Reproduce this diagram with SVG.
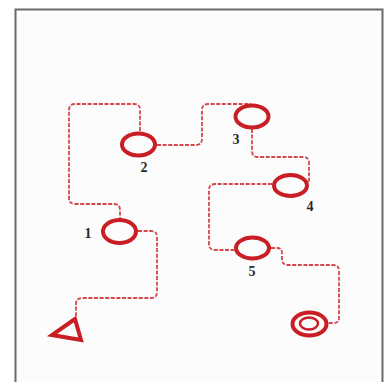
<svg xmlns="http://www.w3.org/2000/svg" width="392" height="382" viewBox="0 0 392 382">
<style>
.node{fill:none;stroke:#c81e24;stroke-width:4}
.inner{fill:none;stroke:#c81e24;stroke-width:2.5}
.link{fill:none;stroke:#d5474b;stroke-width:1.8;stroke-dasharray:4 1.6}
.lbl{font-family:"Liberation Serif","DejaVu Serif",serif;font-weight:bold;font-size:14px;fill:#2a2a2a;text-anchor:middle}
</style>
<rect x="0" y="0" width="392" height="382" fill="#ffffff"/>
<rect x="15.5" y="9.5" width="367" height="380" fill="#fcfcfc" stroke="#6a6a6a" stroke-width="2"/>
<g id="connectors">
<path class="link" d="M140,131 V110 q0,-6 -6,-6 H75 q-6,0 -6,6 V198 q0,6 6,6 H114 q6,0 6,6 V218"/>
<path class="link" d="M157,145 H196 q6,0 6,-6 V110 q0,-6 6,-6 H251"/>
<path class="link" d="M252,129 V151 q0,6 6,6 H303 q6,0 6,6 V182"/>
<path class="link" d="M272,184 H215 q-6,0 -6,6 V244 q0,6 6,6 H234"/>
<path class="link" d="M271,248 H277 q5,0 5,5 V259 q0,6 6,6 H333 q6,0 6,6 V318 q0,5 -5,5 H328"/>
<path class="link" d="M138,231 H151 q6,0 6,6 V292 q0,6 -6,6 H82 q-6,0 -6,6 V316"/>
</g>
<g id="start"><polygon class="node" points="75,319 52,335 81,340" stroke-linejoin="miter"/></g>
<g id="n1"><ellipse class="node" cx="119.5" cy="231.5" rx="16.5" ry="11.5"/><text class="lbl" x="88" y="238">1</text></g>
<g id="n2"><ellipse class="node" cx="138.5" cy="144.5" rx="16.5" ry="11"/><text class="lbl" x="144" y="172">2</text></g>
<g id="n3"><ellipse class="node" cx="252" cy="116.5" rx="16.5" ry="11"/><text class="lbl" x="236" y="144">3</text></g>
<g id="n4"><ellipse class="node" cx="290.5" cy="185.5" rx="16.5" ry="10.5"/><text class="lbl" x="310" y="211">4</text></g>
<g id="n5"><ellipse class="node" cx="252.5" cy="248" rx="16.5" ry="10.5"/><text class="lbl" x="252" y="276">5</text></g>
<g id="end"><ellipse class="node" cx="309.5" cy="324" rx="17" ry="11.5"/><ellipse class="inner" cx="309" cy="323.5" rx="9" ry="6"/></g>
</svg>
